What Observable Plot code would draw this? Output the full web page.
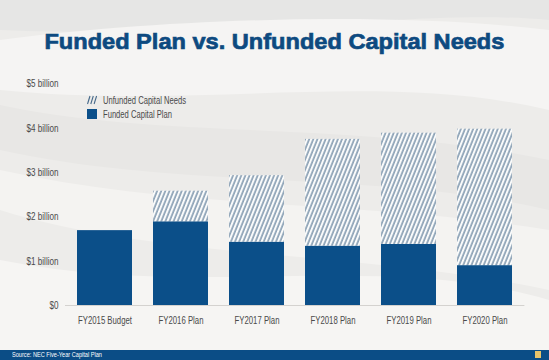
<!DOCTYPE html>
<html>
<head>
<meta charset="utf-8">
<script src="https://cdn.jsdelivr.net/npm/d3@7"></script>
<script src="https://cdn.jsdelivr.net/npm/@observablehq/plot@0.6"></script>
<style>
  html, body { margin: 0; padding: 0; }
  #wrap { position: relative; width: 549px; height: 360px; overflow: hidden; background: #edecea;
    font-family: "Liberation Sans", Arial, sans-serif; }
  #bg { position: absolute; left: 0; top: 0; }
  #title { position: absolute; left: 0; top: 31px; width: 549px; text-align: center; }
  #title span { display: inline-block; font-family: "Liberation Sans", Arial, sans-serif; font-weight: bold;
    font-size: 22.5px; line-height: 22.5px; color: #0d4a80; white-space: nowrap; transform-origin: 50% 50%;
    -webkit-text-stroke: 0.7px #0d4a80; }
  #chart { position: absolute; left: 0; top: 70px; }
  #legend { position: absolute; left: 87px; top: 93px; font-size: 10.5px; color: #4a4a4a; }
  #legend .row { display: flex; align-items: center; height: 14px; white-space: nowrap; }
  #legend svg { margin-right: 6px; flex: none; }
  #legend span { display: inline-block; transform-origin: 0 50%; }
  #footer { position: absolute; left: 0; top: 350px; width: 549px; height: 10px; background: #0b4d86;
    color: #ffffff; font-size: 7px; line-height: 10px; }
  #footer span.src { position: absolute; left: 12px; top: 0; display: inline-block; transform-origin: 0 50%; white-space: nowrap; }
  #footer span.icon { position: absolute; left: 535px; top: 1px; width: 6px; height: 7px; background: #e9c46a; }
</style>
</head>
<body>
<div id="wrap">
  <svg id="bg" width="549" height="360">
    <path d="M0,0 L549,0 L549,20 C420,8 250,40 0,30 Z" fill="#e6e6e5"/>
    <path d="M0,40 C150,20 380,10 549,30 L549,110 C380,70 200,110 0,90 Z" fill="#f5f4f3"/>
    <path d="M0,105 C160,140 360,120 549,160 L549,210 C380,170 180,190 0,150 Z" fill="#e8e7e5"/>
    <path d="M0,170 C180,210 360,200 549,230 L549,290 C360,250 160,260 0,210 Z" fill="#f4f3f1"/>
    <path d="M0,260 C200,300 380,250 549,300 L549,350 L0,350 Z" fill="#f6f5f3"/>
  </svg>
  <div id="title"><span>Funded Plan vs. Unfunded Capital Needs</span></div>
  <div id="chart"></div>
  <div id="legend"></div>
  <div id="footer"><span class="src">Source: NEC Five-Year Capital Plan</span><span class="icon"></span></div>
</div>
<script>
const categories = ["FY2015 Budget", "FY2016 Plan", "FY2017 Plan", "FY2018 Plan", "FY2019 Plan", "FY2020 Plan"];
const funded = [1.69, 1.89, 1.43, 1.34, 1.38, 0.90];
const unfunded = [0, 0.69, 1.50, 2.41, 2.51, 3.08];
const seriesNames = ["Funded Capital Plan", "Unfunded Capital Needs"];
const yTicks = [0, 1, 2, 3, 4, 5];
const yTickLabels = ["$0", "$1 billion", "$2 billion", "$3 billion", "$4 billion", "$5 billion"];

const rows = [];
categories.forEach((c, i) => {
  rows.push({cat: c, series: seriesNames[0], value: funded[i]});
  rows.push({cat: c, series: seriesNames[1], value: unfunded[i]});
});

const BLUE = "#0b4f89";
const HATCH = "#46698a";
const FONT = "'Liberation Sans', Arial, sans-serif";

const chart = Plot.plot({
  width: 549,
  height: 270,
  marginTop: 13.5,
  marginBottom: 35,
  marginLeft: 65,
  marginRight: 24.6,
  style: {background: "transparent", fontFamily: FONT, fontSize: "10.5px", color: "#4a4a4a"},
  x: {domain: categories, paddingInner: 0.27, paddingOuter: 0.144, label: null, axis: null},
  y: {domain: [0, 5], label: null, axis: null},
  color: {domain: seriesNames, range: [BLUE, "url(#hatch)"]},
  marks: [
    Plot.ruleY([0], {stroke: "#d4d2cf", strokeWidth: 1}),
    Plot.barY(rows, Plot.stackY({x: "cat", y: "value", fill: "series", order: null})),
    Plot.axisY(yTicks, {tickSize: 0, tickPadding: 7, tickFormat: (d) => yTickLabels[yTicks.indexOf(d)], fontSize: "10.5px", fill: "#4a4a4a", label: null}),
    Plot.axisX({tickSize: 0, tickPadding: 11, fontSize: "11px", fill: "#4a4a4a", label: null})
  ]
});

chart.insertAdjacentHTML("afterbegin",
  `<defs><pattern id="hatch" patternUnits="userSpaceOnUse" width="3.8" height="10" patternTransform="rotate(22)">
     <rect width="3.8" height="10" fill="#fafbfb"/>
     <line x1="1" y1="0" x2="1" y2="10" stroke="${HATCH}" stroke-width="1.05"/>
   </pattern></defs>`);
document.getElementById("chart").appendChild(chart);

// Condense SVG tick labels horizontally (textLength) to mimic the condensed typeface.
function condense(selector, refText, targetWidth) {
  const texts = Array.from(chart.querySelectorAll(selector + " text"));
  if (!texts.length) return;
  const ref = texts.find((t) => t.textContent === refText) || texts[0];
  const s = targetWidth / ref.getComputedTextLength();
  texts.forEach((t) => {
    const len = t.getComputedTextLength();
    t.setAttribute("textLength", (len * s).toFixed(2));
    t.setAttribute("lengthAdjust", "spacingAndGlyphs");
  });
}
condense('[aria-label="y-axis tick label"]', "$5 billion", 32);
condense('[aria-label="x-axis tick label"]', "FY2015 Budget", 54);

const legend = document.getElementById("legend");
legend.innerHTML = `
  <div class="row"><svg width="10" height="10"><g stroke="${HATCH}" stroke-width="1.1">
     <line x1="0.5" y1="9" x2="3" y2="1"/><line x1="3.8" y1="9" x2="6.3" y2="1"/><line x1="7.1" y1="9" x2="9.6" y2="1"/></g></svg><span id="l1">${seriesNames[1]}</span></div>
  <div class="row"><svg width="10" height="10"><rect width="10" height="10" fill="${BLUE}"/></svg><span id="l2">${seriesNames[0]}</span></div>`;

function squeeze(el, target) {
  const w = el.getBoundingClientRect().width;
  el.style.transform = `scaleX(${target / w})`;
}
const l1 = document.getElementById("l1");
const s1 = 83 / l1.getBoundingClientRect().width;
l1.style.transform = `scaleX(${s1})`;
document.getElementById("l2").style.transform = `scaleX(${s1})`;
squeeze(document.querySelector("#title span"), 460);
squeeze(document.querySelector("#footer span.src"), 90);
</script>
</body>
</html>
